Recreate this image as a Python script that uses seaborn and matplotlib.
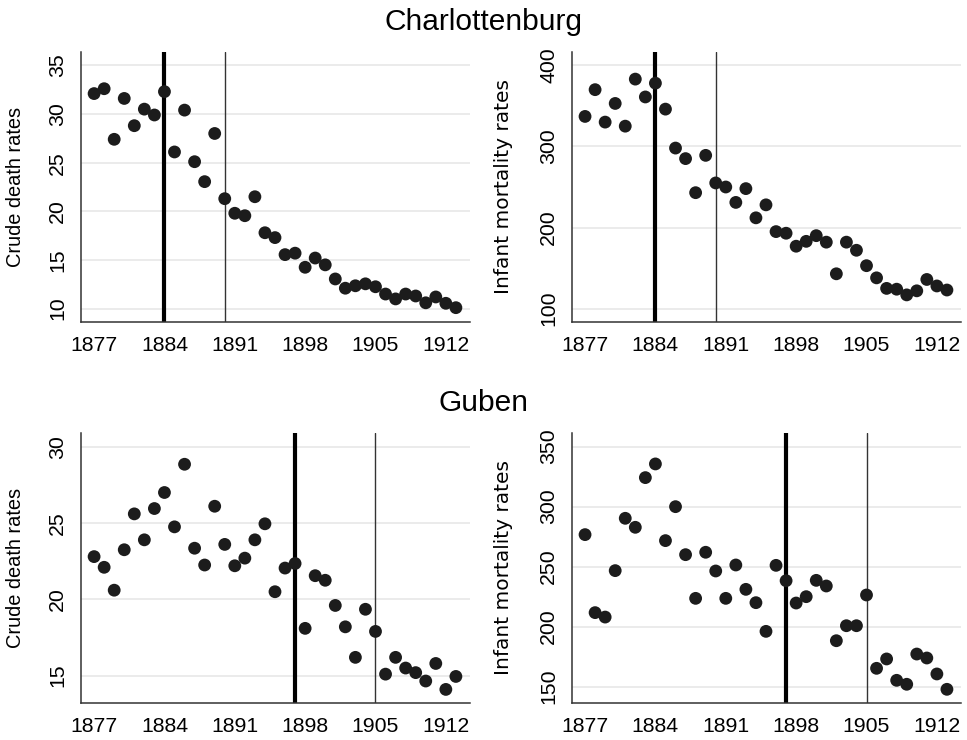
import numpy as np
import pandas as pd
import seaborn as sns
import matplotlib.pyplot as plt

years = list(range(1877, 1914))

# Charlottenburg
charl_cdr = [32.1, 32.6, 27.4, 31.6, 28.8, 30.5, 29.9, 32.3, 26.1, 30.4,
             25.1, 23.05, 28.0, 21.3, 19.8, 19.55, 21.5, 17.8, 17.3, 15.55,
             15.7, 14.25, 15.2, 14.5, 13.05, 12.1, 12.35, 12.55, 12.25, 11.5,
             11.0, 11.5, 11.3, 10.6, 11.2, 10.55, 10.1]
charl_imr = [337, 370, 330, 353, 325, 383, 361, 378, 346, 298,
             285, 243, 289, 255, 250, 231, 248, 212, 228, 195,
             193, 177, 183, 190, 182, 143, 182, 172, 153, 138,
             125, 124, 117, 122, 136, 128, 123]

# Guben
guben_cdr = [22.8, 22.1, 20.6, 23.25, 25.6, 23.9, 25.95, 27.0, 24.75, 28.85,
             23.35, 22.25, 26.1, 23.6, 22.2, 22.7, 23.9, 24.95, 20.5, 22.05,
             22.35, 18.1, 21.55, 21.25, 19.6, 18.2, 16.2, 19.35, 17.9, 15.1,
             16.2, 15.5, 15.2, 14.65, 15.8, 14.1, 14.95]
guben_imr = [276.7, 211.7, 208, 246.7, 290.3, 282.8, 324.2, 335.6, 271.7, 300,
             260, 223.6, 262, 246.4, 223.6, 251.4, 231.1, 220, 196.1, 251.1,
             238.3, 219.7, 225, 238.6, 233.9, 188.3, 200.8, 200.8, 226.4, 165.3,
             173.1, 155.3, 152, 177.2, 173.9, 160.6, 147.8]

xticks = [1877, 1884, 1891, 1898, 1905, 1912]
charl_lines = [1884, 1890]   # thick, thin
guben_lines = [1897, 1905]

sns.set_style("white")
plt.rcParams['font.family'] = ['Liberation Sans', 'DejaVu Sans']
plt.rcParams['text.color'] = 'black'
plt.rcParams['axes.labelcolor'] = 'black'
plt.rcParams['xtick.color'] = 'black'
plt.rcParams['ytick.color'] = 'black'

fig = plt.figure(figsize=(9.67, 7.4), dpi=100)

# the infant-mortality axis title is set in a wider face in the original
panels = [
    ([0.0838, 0.5649, 0.4022, 0.3648], charl_cdr, "Crude death rates", [10, 15, 20, 25, 30, 35], (8.63, 36.37), charl_lines),
    ([0.5915, 0.5649, 0.4023, 0.3648], charl_imr, "Infant mortality rates", [100, 200, 300, 400], (83.6, 416.4), charl_lines),
    ([0.0838, 0.0500, 0.4022, 0.3649], guben_cdr, "Crude death rates", [15, 20, 25, 30], (13.21, 30.9), guben_lines),
    ([0.5915, 0.0500, 0.4023, 0.3649], guben_imr, "Infant mortality rates", [150, 200, 250, 300, 350], (136.4, 361.4), guben_lines),
]

for pos, vals, ylab, yticks, ylim, vlines in panels:
    ax = fig.add_axes(pos)
    df = pd.DataFrame({"year": years, "rate": vals})
    for yt in yticks:
        ax.axhline(yt, color="#e6e6e6", lw=1.1, zorder=0)
    ax.axvline(vlines[0], color="black", lw=3.0, zorder=1)
    ax.axvline(vlines[1], color="#333333", lw=1.0, zorder=1)
    sns.scatterplot(data=df, x="year", y="rate", ax=ax, s=85, color="#1c1c1c",
                    edgecolor="none", zorder=3)
    ax.set_xlim(1875.7, 1914.4)
    ax.set_ylim(*ylim)
    ax.set_xticks(xticks)
    ax.set_yticks(yticks)
    ax.set_xlabel("")
    if ylab.startswith("Infant"):
        ax.set_ylabel(ylab, fontsize=14.5, labelpad=19, family="DejaVu Sans")
    else:
        ax.set_ylabel(ylab, fontsize=14.4, labelpad=17)
    ax.tick_params(axis="both", direction="out", length=6, width=1.1,
                   labelsize=15.3, pad=4)
    ax.tick_params(axis="both", color="#333333")
    plt.setp(ax.get_yticklabels(), rotation=90, va="center")
    for side in ["top", "right"]:
        ax.spines[side].set_visible(False)
    for side in ["left", "bottom"]:
        ax.spines[side].set_color("#333333")
        ax.spines[side].set_linewidth(1.1)

fig.text(0.5, 0.97, "Charlottenburg", ha="center", va="center", fontsize=21.5)
fig.text(0.5, 0.456, "Guben", ha="center", va="center", fontsize=21.5)

fig.savefig("out.png", dpi=100, facecolor="white")
